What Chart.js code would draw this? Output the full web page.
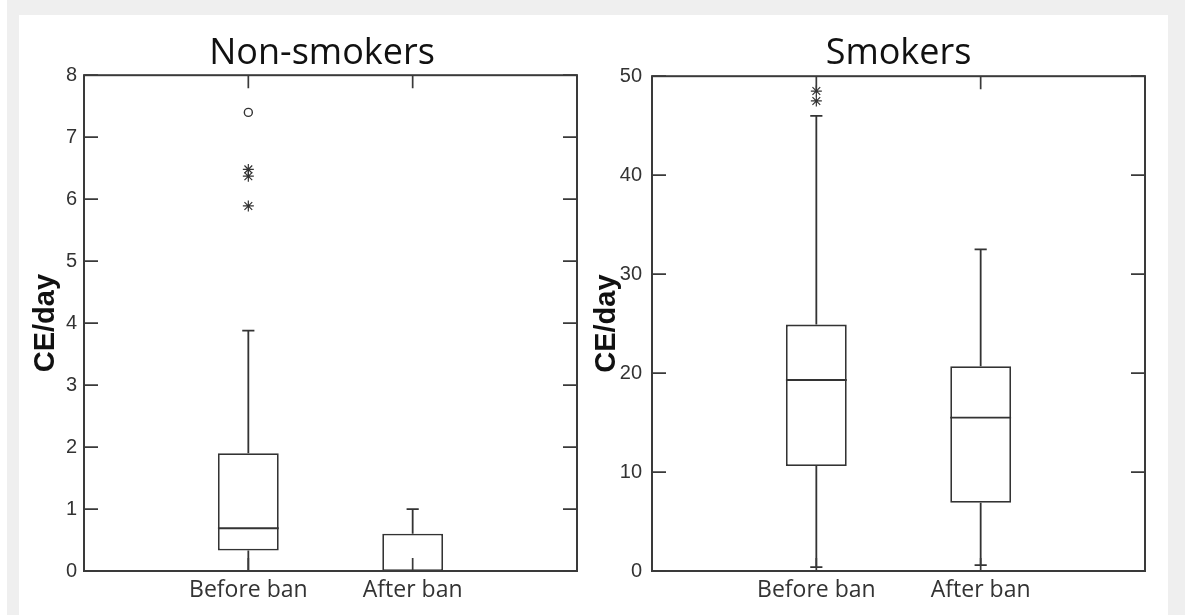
<!DOCTYPE html>
<html>
<head>
<meta charset="utf-8">
<script src="https://cdn.jsdelivr.net/npm/chart.js@4.4.0/dist/chart.umd.min.js"></script>
<style>
  html, body { margin: 0; padding: 0; background: #fff; }
  body { width: 1185px; height: 615px; position: relative; overflow: hidden; }
  #bg { position: absolute; left: 7px; top: 0; width: 1178px; height: 615px; background: #efefef; }
  #panel { position: absolute; left: 19px; top: 15px; width: 1149px; height: 600px; background: #fff; }
  canvas { position: absolute; top: 15px; }
  #nonSmokers { left: 19px; }
  #smokers { left: 590px; }
</style>
</head>
<body>
<div id="bg"></div>
<div id="panel"></div>
<canvas id="nonSmokers" width="606" height="600"></canvas>
<canvas id="smokers" width="578" height="600"></canvas>
<script>
const categories = ['Before ban', 'After ban'];

// box stats per category: [min, q1, median, q3, max]
const nonSmokersBox = [[0, 0.33, 0.69, 1.9, 3.88], [0, 0, 0, 0.6, 1.0]];
const nonSmokersCircles = [7.4];            // Before ban
const nonSmokersStars = [6.48, 6.37, 5.89]; // Before ban
const smokersBox = [[0.4, 10.6, 19.3, 24.9, 46.0], [0.6, 6.9, 15.5, 20.7, 32.5]];
const smokersCircles = [];
const smokersStars = [47.5, 48.5];          // Before ban

const INK = '#333';

// whiskers, caps and median lines, placed from the bar elements and the y scale
const boxParts = {
  id: 'boxParts',
  afterDatasetsDraw(chart) {
    const ctx = chart.ctx;
    const y = chart.scales.y;
    const meta = chart.getDatasetMeta(0);
    const stats = chart.data.datasets[0].stats;
    ctx.save();
    ctx.strokeStyle = INK;
    ctx.lineWidth = 1.8;
    stats.forEach((s, i) => {
      const el = meta.data[i + 1];
      if (!el) return;
      const cx = el.x, half = el.width / 2, cap = el.width * 0.1;
      const [mn, q1, med, q3, mx] = s.map(v => y.getPixelForValue(v));
      ctx.beginPath();
      if (s[4] > s[3]) {
        ctx.moveTo(cx, q3); ctx.lineTo(cx, mx);
        ctx.moveTo(cx - cap, mx); ctx.lineTo(cx + cap, mx);
      }
      if (s[0] < s[1]) {
        ctx.moveTo(cx, q1); ctx.lineTo(cx, mn);
        ctx.moveTo(cx - cap, mn); ctx.lineTo(cx + cap, mn);
      }
      if (s[2] > s[1]) {
        ctx.moveTo(cx - half, med); ctx.lineTo(cx + half, med);
      }
      ctx.stroke();
    });
    ctx.restore();
  }
};

// plot frame with inward ticks on all four sides
const frame = {
  id: 'frame',
  afterDraw(chart) {
    const {ctx, chartArea: a, scales: {x, y}} = chart;
    ctx.save();
    ctx.strokeStyle = '#3a3a3a';
    ctx.lineWidth = 2;
    ctx.strokeRect(a.left, a.top, a.right - a.left, a.bottom - a.top);
    ctx.lineWidth = 1.7;
    ctx.beginPath();
    y.ticks.forEach((t, i) => {
      const py = y.getPixelForTick(i);
      ctx.moveTo(a.left, py); ctx.lineTo(a.left + 14, py);
      ctx.moveTo(a.right, py); ctx.lineTo(a.right - 14, py);
    });
    categories.forEach(c => {
      const px = x.getPixelForValue(x.getLabels().indexOf(c));
      ctx.moveTo(px, a.bottom); ctx.lineTo(px, a.bottom - 13);
      ctx.moveTo(px, a.top); ctx.lineTo(px, a.top + 13);
    });
    ctx.stroke();
    ctx.restore();
  }
};

function makeChart(id, opts) {
  const labels = [''].concat(categories, ['']);
  const boxes = [null].concat(opts.box.map(s => [s[1], s[3]]), [null]);
  const first = categories[0];
  return new Chart(document.getElementById(id), {
    type: 'bar',
    data: {
      labels: labels,
      datasets: [{
        label: 'box',
        data: boxes,
        stats: opts.box,
        backgroundColor: '#fff',
        borderColor: INK,
        borderWidth: 1.8,
        borderSkipped: false,
        categoryPercentage: 1,
        barPercentage: 0.37
      }, {
        type: 'line',
        label: 'outliers (o)',
        data: opts.circles.map(v => ({x: first, y: v})),
        showLine: false,
        pointStyle: 'circle',
        pointRadius: 4,
        pointBorderWidth: 1.4,
        pointBorderColor: INK,
        pointBackgroundColor: '#fff'
      }, {
        type: 'line',
        label: 'outliers (*)',
        data: opts.stars.map(v => ({x: first, y: v})),
        showLine: false,
        pointStyle: 'star',
        pointRadius: 5.5,
        pointBorderWidth: 1.2,
        pointBorderColor: INK,
        pointBackgroundColor: INK
      }]
    },
    options: {
      responsive: false,
      animation: false,
      layout: { padding: { left: 0, right: opts.padRight, top: 0, bottom: 0 } },
      plugins: {
        legend: { display: false },
        tooltip: { enabled: false },
        title: {
          display: true,
          text: opts.title,
          fullSize: opts.fullTitle,
          color: '#111',
          font: { family: 'Open Sans', size: 36, weight: 'normal' },
          padding: { top: 17, bottom: opts.titleBottom }
        }
      },
      scales: {
        x: {
          type: 'category',
          offset: false,
          grid: { display: false, drawTicks: false },
          border: { display: false },
          ticks: {
            autoSkip: false, maxRotation: 0, padding: 6,
            color: '#333',
            font: { family: 'Open Sans', size: 23 }
          },
          afterFit: s => { s.height = 44; }
        },
        y: {
          min: 0,
          max: opts.max,
          grid: { display: false, drawTicks: false },
          border: { display: false },
          ticks: {
            stepSize: opts.step, padding: opts.tickPad,
            color: '#333',
            font: { family: 'Liberation Sans', size: 20 }
          },
          title: {
            display: true,
            text: 'CE/day',
            color: '#111',
            font: { family: 'Liberation Sans', size: 29, weight: 'bold' },
            padding: { top: opts.titlePad, bottom: 0 }
          },
          afterFit: s => { s.width = opts.axisWidth; }
        },
        // empty right-hand box so the full-width title centres like the original
        yRight: {
          position: 'right',
          display: opts.rightGap > 0,
          grid: { display: false, drawTicks: false },
          border: { display: false },
          ticks: { display: false },
          afterFit: s => { s.width = opts.rightGap; }
        }
      }
    },
    plugins: [boxParts, frame]
  });
}

makeChart('nonSmokers', {
  title: 'Non-smokers', fullTitle: true, titleBottom: 0,
  box: nonSmokersBox, circles: nonSmokersCircles, stars: nonSmokersStars,
  max: 8, step: 1, tickPad: 7, titlePad: 10, axisWidth: 65, padRight: 0, rightGap: 48
});

makeChart('smokers', {
  title: 'Smokers', fullTitle: false, titleBottom: 1,
  box: smokersBox, circles: smokersCircles, stars: smokersStars,
  max: 50, step: 10, tickPad: 10, titlePad: 0, axisWidth: 62, padRight: 23, rightGap: 0
});
</script>
</body>
</html>
